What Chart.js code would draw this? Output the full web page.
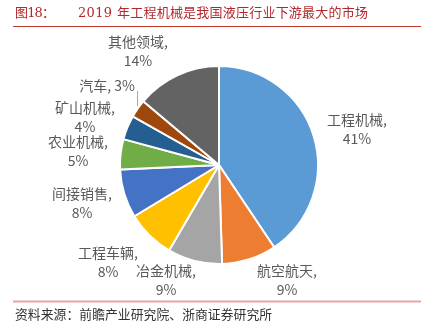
<!DOCTYPE html>
<html>
<head>
<meta charset="utf-8">
<script src="https://cdn.jsdelivr.net/npm/chart.js@4/dist/chart.umd.min.js"></script>
<style>
    html, body { margin: 0; padding: 0; background: #fff; }
    canvas { display: block; }
</style>
</head>
<body>
<canvas id="pieChart" width="426" height="327"></canvas>
<script>
// data (2019 hydraulics downstream markets, %)
const categories = ["工程机械", "航空航天", "冶金机械", "工程车辆", "间接销售", "农业机械", "矿山机械", "汽车", "其他领域"];
const shares = [41, 9, 9, 8, 8, 5, 4, 3, 14];
const sliceColors = ["#5B9BD5", "#ED7D31", "#A5A5A5", "#FFC000", "#4472C4", "#70AD47", "#255E91", "#9E480E", "#636363"];

// title is set in three runs, like the tabbed original
const titleParts = ["图18：", "2019", "年工程机械是我国液压行业下游最大的市场"];
const titleSpans = [[15, 55], [78, 112], [117, 368]];
const sourceText = "资料来源：前瞻产业研究院、浙商证券研究所";

// label anchors relative to pie centre, in units of the radius
const labelOffsets = [
    [1.394, -0.364], [0.687, 1.162], [-0.535, 1.162], [-1.121, 0.980], [-1.384, 0.384],
    [-1.424, -0.141], [-1.354, -0.485], [-1.131, -0.798], [-0.818, -1.152]
];
const singleLine = [7];   // "汽车, 3%" sits on one line with a leader

const labelFont = '14px "Noto Sans CJK SC", "Noto Sans", sans-serif';

// draw text so it fills [x0, x1], spreading the spare room between glyphs
function fitText(ctx, text, x0, x1, y) {
    ctx.letterSpacing = "0px";
    const w = ctx.measureText(text).width;
    const n = [...text].length;
    const gap = n > 1 ? (x1 - x0 - w) / (n - 1) : 0;
    ctx.letterSpacing = gap.toFixed(2) + "px";
    ctx.fillText(text, x0, y);
    ctx.letterSpacing = "0px";
}

const frame = {
    id: "frame",
    afterDraw(chart) {
        const ctx = chart.ctx;
        ctx.save();
        ctx.fillStyle = "#B3282D";
        ctx.font = '13px "DejaVu Serif", "Noto Sans CJK SC", serif';
        ctx.textBaseline = "middle";
        ctx.textAlign = "left";
        titleParts.forEach((part, i) => fitText(ctx, part, titleSpans[i][0], titleSpans[i][1], 13.5));

        ctx.strokeStyle = "#C0392B";
        ctx.lineWidth = 1;
        ctx.beginPath();
        ctx.moveTo(13, 26.5);
        ctx.lineTo(421, 26.5);
        ctx.stroke();

        ctx.strokeStyle = "#E8A3A3";
        ctx.lineWidth = 2;
        ctx.beginPath();
        ctx.moveTo(13, 301.5);
        ctx.lineTo(421, 301.5);
        ctx.stroke();

        ctx.fillStyle = "#333";
        ctx.font = '12.8px "Noto Sans CJK SC", sans-serif';
        fitText(ctx, sourceText, 15, 272, 314);
        ctx.restore();
    }
};

const sliceLabels = {
    id: "sliceLabels",
    afterDatasetsDraw(chart) {
        const ctx = chart.ctx;
        const arcs = chart.getDatasetMeta(0).data;
        ctx.save();
        ctx.font = labelFont;
        ctx.fillStyle = "#595959";
        ctx.textAlign = "center";
        ctx.textBaseline = "middle";
        arcs.forEach((arc, i) => {
            const { x, y, outerRadius } = arc.getProps(["x", "y", "outerRadius"], true);
            const lx = x + labelOffsets[i][0] * outerRadius;
            const ly = y + labelOffsets[i][1] * outerRadius;
            const pct = shares[i] + "%";
            if (singleLine.includes(i)) {
                const txt = categories[i] + ", " + pct;
                ctx.fillText(txt, lx, ly);
                const endX = Math.round(lx + ctx.measureText(txt).width / 2) + 2.5;
                ctx.strokeStyle = "#A6A6A6";
                ctx.lineWidth = 1;
                ctx.beginPath();
                ctx.moveTo(endX, ly + 5);
                ctx.lineTo(endX, ly + 20);
                ctx.stroke();
            } else {
                ctx.fillText(categories[i] + ",", lx, ly - 9);
                ctx.fillText(pct, lx, ly + 10);
            }
        });
        ctx.restore();
    }
};

new Chart(document.getElementById("pieChart").getContext("2d"), {
    type: "pie",
    data: {
        labels: categories,
        datasets: [{
            data: shares,
            backgroundColor: sliceColors,
            borderColor: "#ffffff",
            borderWidth: 2
        }]
    },
    options: {
        responsive: false,
        animation: false,
        layout: { padding: { left: 119, right: 107, top: 65, bottom: 62 } },
        plugins: { legend: { display: false }, tooltip: { enabled: false } }
    },
    plugins: [frame, sliceLabels]
});
</script>
</body>
</html>
